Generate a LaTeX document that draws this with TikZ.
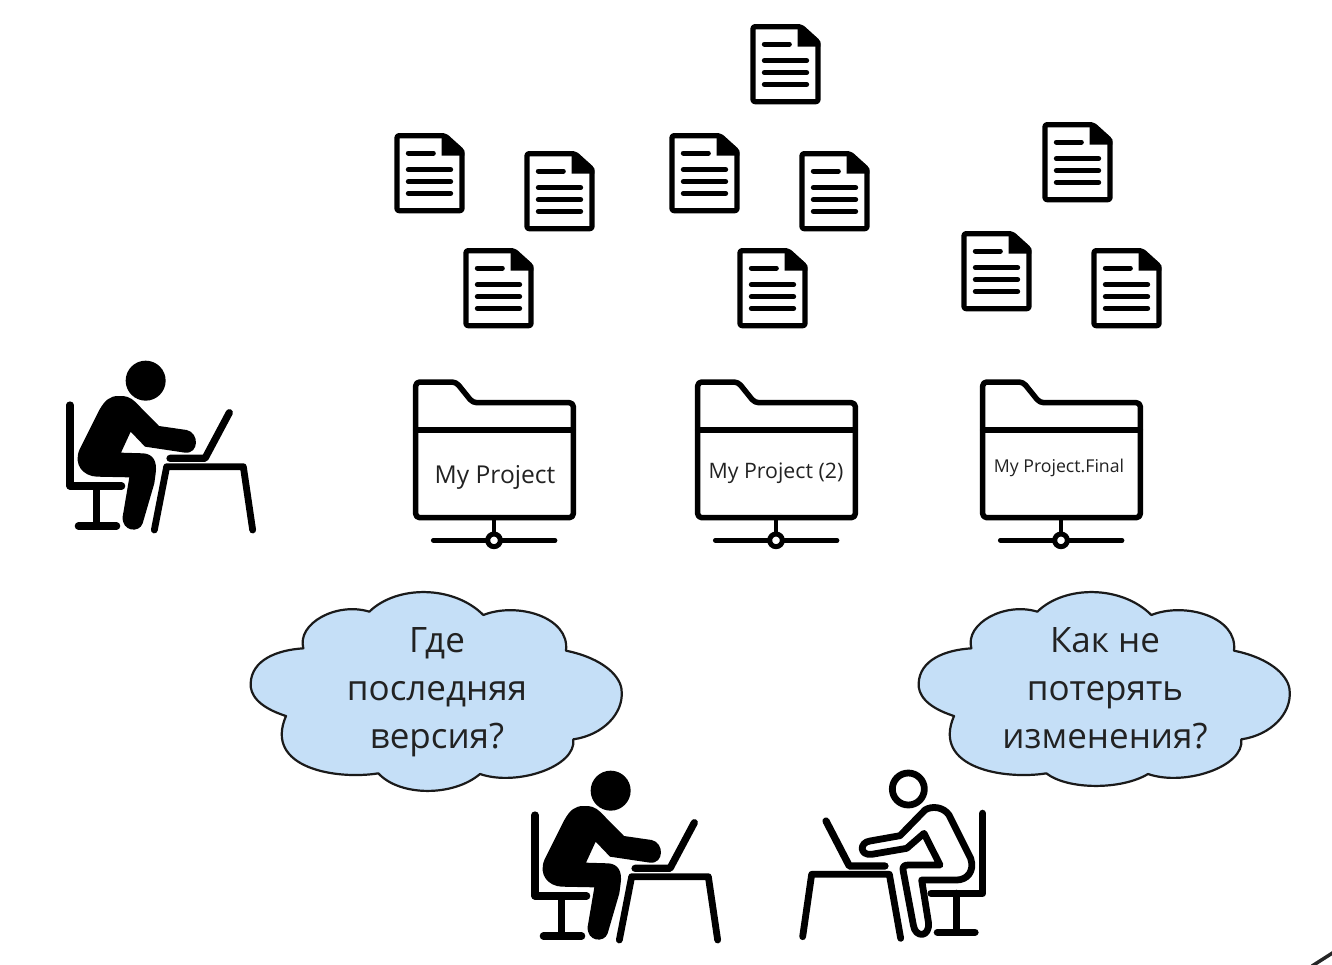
\documentclass[tikz,border=0pt]{standalone}
\usepackage{fontspec}
\setmainfont{Open Sans}
\definecolor{cloudfill}{HTML}{C5DFF7}
\definecolor{cloudline}{HTML}{1A1A1A}
\definecolor{inktext}{HTML}{222222}
\tikzset{
  x=1pt,y=-1pt,
  thick7/.style={line width=7.2pt,line cap=round,line join=round},
  cloudshape/.style={fill=cloudfill,draw=cloudline,line width=2.2pt,line join=round},
  bubbletext/.style={font=\fontsize{35}{48}\selectfont,text=inktext,align=center,inner sep=0pt},
  foldertext/.style={text=inktext,inner sep=0pt},
  pics/docicon/.style={code={
    \begin{scope}[scale=1/3,line cap=round,line join=round]
      \draw[line width=5.2pt,rounded corners=2pt,fill=white] (36,32)--(180,32)--(231,78)--(231,257)--(36,257)--cycle;
      \fill (170,30)--(186,30)--(238,76)--(238,92)--(170,92)--cycle;
      \draw[line width=5pt] (70,84)--(145,84) (70,134)--(197,134) (70,170)--(197,170) (70,205)--(197,205);
    \end{scope}}},
  pics/foldericon/.style={code={
    \begin{scope}[scale=1/3,line cap=round,line join=round]
      \draw[line width=5.5pt,rounded corners=4pt] (47,36)--(168,36)--(218,98)--(520,98)--(520,443)--(47,443)--cycle;
      \draw[line width=5.5pt] (47,180)--(520,180);
      \draw[line width=4.8pt] (282,445)--(282,495) (100,511)--(465,511);
      \draw[line width=5pt,fill=white] (282,511) circle (19);
    \end{scope}}},
  pics/solidperson/.style={code={
    \begin{scope}[scale=1/3,line join=round,line cap=round]
      \fill (257,92) circle (60);
      \fill (58,300)--(118,180) .. controls (135,150) and (150,138) .. (175,138)
        .. controls (195,136) and (212,142) .. (225,155)
        --(297,228)--(380,240) .. controls (418,248) and (418,312) .. (375,308)
        --(255,290)--(212,245)--(183,308)--(250,310)
        .. controls (280,312) and (292,335) .. (287,370)
        --(283,400)--(248,520) .. controls (238,550) and (185,545) .. (188,500)
        --(208,382)--(110,380) .. controls (70,378) and (40,345) .. (58,300)--cycle;
      \draw[thick7] (30,165)--(30,408)--(185,408) (110,408)--(110,528) (55,528)--(170,528);
      \draw[thick7] (508,188)--(435,325)--(330,325);
      \draw[line width=6.8pt] (283,540)--(320,350)--(550,350)--(578,540);
    \end{scope}}},
  pics/outlineperson/.style={code={
    \begin{scope}[scale=1/3,line join=round,line cap=round]
      \draw[line width=6.8pt] (325,72) circle (48);
      \draw[line width=6.8pt] (372,205)--(320,250)--(215,268) .. controls (178,272) and (178,232) .. (210,228)
        --(300,212)--(375,135) .. controls (395,122) and (430,125) .. (447,150)
        --(512,280) .. controls (525,320) and (500,345) .. (470,345)
        --(365,345)--(385,470) .. controls (392,518) and (345,520) .. (340,480)
        --(310,320) .. controls (306,305) and (312,300) .. (325,300)
        --(420,300)--cycle;
      \draw[thick7] (548,145)--(548,385)--(393,385) (470,385)--(470,500) (412,502)--(525,502);
      \draw[thick7] (78,168)--(148,303)--(255,303);
      \draw[line width=6.8pt] (8,515)--(35,328)--(268,328)--(302,520);
    \end{scope}}},
  pics/cloudicon/.style={code={
    \begin{scope}[scale=1/3]
      \draw[cloudshape] (190,205) .. controls (170,130) and (290,65) .. (388,95)
        .. controls (470,15) and (640,15) .. (730,105)
        .. controls (830,65) and (990,110) .. (978,212)
        .. controls (1090,235) and (1145,290) .. (1145,335)
        .. controls (1150,400) and (1090,465) .. (1000,478)
        .. controls (1010,560) and (830,620) .. (720,582)
        .. controls (640,#1) and (480,#1) .. (415,580)
        .. controls (290,600) and (70,565) .. (138,408)
        .. controls (50,380) and (30,340) .. (32,310)
        .. controls (35,240) and (110,210) .. (190,205) -- cycle;
    \end{scope}}},
}
\begin{document}
\begin{tikzpicture}
\useasboundingbox (0,0) rectangle (1332,964);
\foreach \px/\py in {385/125,515/143,454/240,741/16,660/125,790/143,728/240,1033/114,952/223,1082/240}
  \pic at (\px,\py) {docicon};
\pic at (400,370) {foldericon};
\pic at (682,370) {foldericon};
\pic at (967,370) {foldericon};
\node[foldertext,font=\fontsize{24.6}{30}\selectfont] (lab1) at (495,477) {My Project};
\node[foldertext,font=\fontsize{21.3}{26}\selectfont] (lab2) at (776,473) {My Project (2)};
\node[foldertext,font=\fontsize{17.7}{21}\selectfont] (lab3) at (1059,468) {My Project.Final};
\pic at (60,350) {solidperson};
\pic at (525,760) {solidperson};
\pic at (800,765) {outlineperson};
\pic at (240,580) {cloudicon=650};
\pic at (908,580) {cloudicon=630};
\node[bubbletext] (q1) at (437,692) {Где\\последняя\\версия?};
\node[bubbletext] (q2) at (1105,688) {Как не\\потерять\\изменения?};
\coordinate (cornerA) at (1312,966);
\coordinate (cornerB) at (1334,952);
\draw[line width=3.5pt,color=black!85] (cornerA)--(cornerB);
\end{tikzpicture}
\end{document}
